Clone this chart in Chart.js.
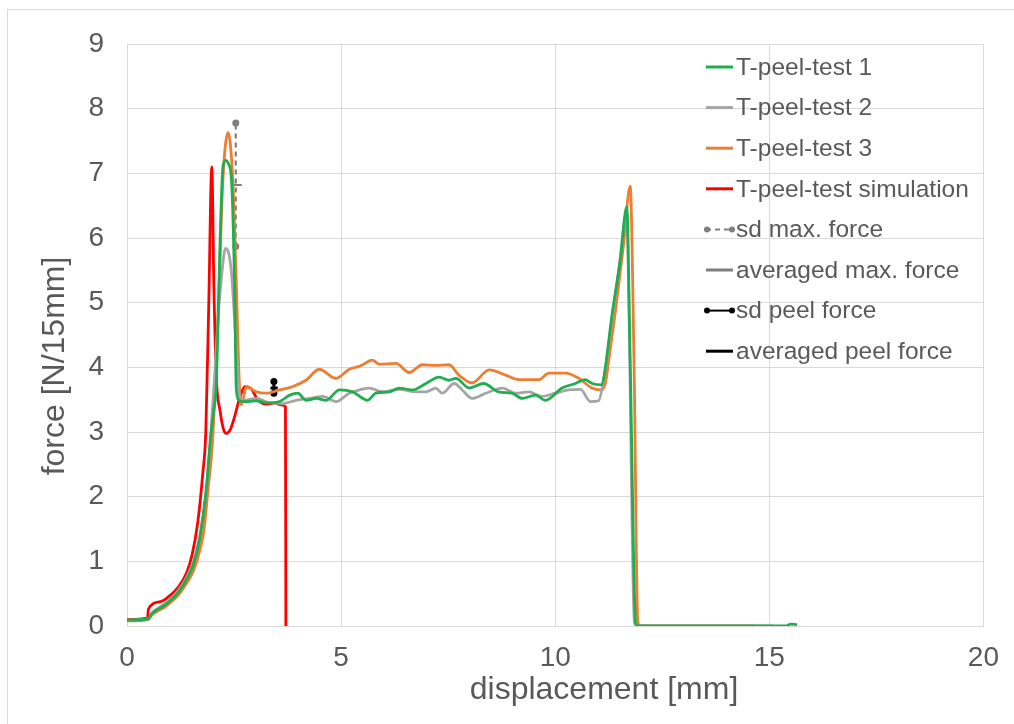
<!DOCTYPE html>
<html>
<head>
<meta charset="utf-8">
<script src="https://cdn.jsdelivr.net/npm/chart.js@4/dist/chart.umd.min.js"></script>
<style>
  html, body { margin: 0; padding: 0; background: #fff; overflow: hidden; }
  .frame { position: absolute; left: 7px; top: 9px; width: 1200px; height: 900px;
           border-top: 1px solid #d9d9d9; border-left: 1px solid #d9d9d9; }
  .wrap { position: absolute; left: 0; top: 0; width: 1014px; height: 724px; }
</style>
</head>
<body>
<div class="frame"></div>
<div class="wrap"><canvas id="chart" width="1014" height="724"></canvas></div>
<script>
// DATA
var test1X = [0, 0.5, 0.58, 0.9, 1.2, 1.39, 1.55, 1.7, 1.85, 1.95, 2.02, 2.09, 2.17, 2.24, 2.3, 2.36, 2.44, 2.51, 2.55, 2.6, 2.75, 3.0, 3.3, 3.56, 3.8, 3.99, 4.18, 4.42, 4.65, 4.96, 5.27, 5.62, 5.81, 6.12, 6.36, 6.67, 6.98, 7.29, 7.52, 7.68, 7.99, 8.33, 8.68, 8.99, 9.23, 9.54, 9.77, 10.16, 10.47, 10.7, 10.86, 11.09, 11.15, 11.32, 11.52, 11.67, 11.75, 11.88, 11.95, 15.4, 15.5, 15.65]
var test1Y = [0.09, 0.11, 0.19, 0.33, 0.52, 0.72, 0.95, 1.35, 2.1, 2.9, 3.3, 3.8, 5.86, 7.1, 7.2, 7.16, 6.9, 5.35, 3.7, 3.5, 3.47, 3.48, 3.45, 3.47, 3.57, 3.6, 3.49, 3.52, 3.49, 3.65, 3.62, 3.49, 3.6, 3.62, 3.68, 3.65, 3.75, 3.85, 3.8, 3.83, 3.68, 3.75, 3.62, 3.6, 3.52, 3.57, 3.49, 3.68, 3.75, 3.81, 3.75, 3.73, 3.9, 4.78, 5.66, 6.48, 4.11, 0.03, 0, 0, 0.03, 0.02]

var test2X = [0, 0.5, 0.58, 0.9, 1.2, 1.39, 1.55, 1.7, 1.85, 1.95, 2.05, 2.13, 2.2, 2.3, 2.38, 2.44, 2.55, 2.63, 2.72, 3.02, 3.3, 3.64, 3.95, 4.26, 4.57, 4.88, 5.19, 5.43, 5.66, 5.97, 6.36, 6.75, 6.98, 7.21, 7.36, 7.64, 7.83, 8.06, 8.38, 8.77, 9.07, 9.38, 9.69, 10.0, 10.31, 10.59, 10.82, 11.01, 11.13, 11.3, 11.5, 11.67, 11.72, 11.85, 11.95, 15.1]
var test2Y = [0.09, 0.11, 0.2, 0.35, 0.55, 0.75, 1.0, 1.4, 2.1, 2.9, 3.9, 4.8, 5.35, 5.84, 5.75, 5.46, 4.32, 3.55, 3.49, 3.52, 3.46, 3.44, 3.49, 3.52, 3.55, 3.47, 3.6, 3.65, 3.68, 3.62, 3.66, 3.62, 3.62, 3.68, 3.6, 3.75, 3.65, 3.52, 3.6, 3.68, 3.6, 3.62, 3.55, 3.6, 3.65, 3.66, 3.47, 3.48, 3.8, 4.6, 5.6, 6.4, 5.0, 0.05, 0, 0]

var test3X = [0, 0.5, 0.58, 0.9, 1.2, 1.39, 1.55, 1.7, 1.8, 1.89, 2.0, 2.13, 2.24, 2.36, 2.47, 2.55, 2.62, 2.67, 2.79, 3.02, 3.25, 3.56, 3.86, 4.18, 4.49, 4.88, 5.19, 5.45, 5.73, 5.89, 6.28, 6.59, 6.9, 7.2, 7.52, 7.75, 8.06, 8.46, 8.84, 9.15, 9.62, 9.85, 10.24, 10.55, 10.86, 11.05, 11.17, 11.25, 11.41, 11.6, 11.75, 11.84, 11.93, 12.0, 14.64]
var test3Y = [0.08, 0.1, 0.17, 0.3, 0.48, 0.66, 0.85, 1.17, 1.5, 2.1, 2.88, 4.84, 6.9, 7.63, 6.9, 5.35, 3.8, 3.42, 3.7, 3.62, 3.6, 3.65, 3.7, 3.8, 3.97, 3.83, 3.97, 4.02, 4.11, 4.05, 4.06, 3.92, 4.04, 4.03, 4.04, 3.88, 3.76, 3.96, 3.88, 3.81, 3.81, 3.91, 3.91, 3.83, 3.68, 3.65, 3.75, 4.11, 4.89, 5.92, 6.8, 4.11, 0.05, 0, 0]

var simX = [0, 0.48, 0.5, 0.8, 1.0, 1.2, 1.39, 1.52, 1.65, 1.77, 1.84, 1.91, 1.98, 2.03, 2.09, 2.17, 2.25, 2.32, 2.42, 2.51, 2.62, 2.75, 2.9, 3.05, 3.25, 3.45, 3.6, 3.7, 3.71]
var simY = [0.1, 0.12, 0.26, 0.38, 0.47, 0.6, 0.82, 1.1, 1.59, 2.36, 3.0, 5.0, 7.1, 5.2, 3.8, 3.34, 3.05, 2.98, 3.05, 3.23, 3.5, 3.7, 3.67, 3.5, 3.43, 3.45, 3.42, 3.39, 0]

var sdMaxX = [2.54, 2.54]
var sdMaxY = [5.87, 7.78]
var avgMaxX = [2.47, 2.68]
var avgMaxY = [6.82, 6.82]
var sdPeelX = [3.43, 3.43]
var sdPeelY = [3.6, 3.78]
var avgPeelX = [3.35, 3.52]
var avgPeelY = [3.68, 3.68]

var xTicks = [0, 5, 10, 15, 20]
var yTicks = [0, 1, 2, 3, 4, 5, 6, 7, 8, 9]

// COLORS
var green = '#1fae4f'
var gray = '#a5a5a5'
var orange = '#ed7d31'
var red = '#ff0000'
var darkGray = '#7f7f7f'
var black = '#000000'
var text = '#595959'
var grid = '#d9d9d9'
var font = "'Liberation Sans', Arial, sans-serif"

function pts (xs, ys) {
  return xs.map(function (x, i) { return { x: x, y: ys[i] } })
}

function curve (label, xs, ys, color) {
  return {
    label: label, data: pts(xs, ys), borderColor: color, backgroundColor: color,
    borderWidth: 2.8, pointRadius: 0, showLine: true, cubicInterpolationMode: 'monotone'
  }
}

function marker (label, xs, ys, color, dash, dots, width) {
  return {
    label: label, data: pts(xs, ys), borderColor: color, backgroundColor: color,
    borderWidth: width, borderDash: dash, showLine: true,
    pointRadius: dots ? 3.5 : 0, pointBackgroundColor: color, pointBorderWidth: 0
  }
}

var datasets = [
  curve('T-peel-test 1', test1X, test1Y, green),
  curve('T-peel-test 2', test2X, test2Y, gray),
  curve('T-peel-test 3', test3X, test3Y, orange),
  curve('T-peel-test simulation', simX, simY, red),
  marker('sd max. force', sdMaxX, sdMaxY, darkGray, [5, 4], true, 2.2),
  marker('averaged max. force', avgMaxX, avgMaxY, darkGray, [], false, 2),
  marker('sd peel force', sdPeelX, sdPeelY, black, [], true, 3),
  marker('averaged peel force', avgPeelX, avgPeelY, black, [], false, 3)
]

// legend drawn inside the plot, top right
var insideLegend = {
  id: 'insideLegend',
  afterDraw: function (chart) {
    var ctx = chart.ctx
    var x0 = 706, x1 = 733, y = 67, step = 40.6
    ctx.save()
    ctx.font = '24.5px ' + font
    ctx.textBaseline = 'middle'
    ctx.textAlign = 'left'
    chart.data.datasets.forEach(function (ds) {
      ctx.strokeStyle = ds.borderColor
      ctx.lineWidth = ds.pointRadius ? 2 : 3
      ctx.setLineDash(ds.borderDash || [])
      ctx.beginPath()
      ctx.moveTo(x0, y)
      ctx.lineTo(x1, y)
      ctx.stroke()
      ctx.setLineDash([])
      if (ds.pointRadius) {
        ctx.fillStyle = ds.borderColor
        ;[x0 + 1, x1 - 1].forEach(function (px) {
          ctx.beginPath()
          ctx.arc(px, y, 3, 0, Math.PI * 2)
          ctx.fill()
        })
      }
      ctx.fillStyle = text
      ctx.fillText(ds.label, x1 + 3, y + 1)
      y += step
    })
    ctx.restore()
  }
}

// axis titles placed like the original (off centre of the plot)
var axisTitles = {
  id: 'axisTitles',
  afterDraw: function (chart) {
    var ctx = chart.ctx
    ctx.save()
    ctx.fillStyle = text
    ctx.font = '32px ' + font
    ctx.textAlign = 'center'
    ctx.textBaseline = 'middle'
    ctx.fillText('displacement [mm]', 604, 690)
    ctx.translate(55, 366)
    ctx.rotate(-Math.PI / 2)
    ctx.fillText('force [N/15mm]', 0, 0)
    ctx.restore()
  }
}

new Chart(document.getElementById('chart'), {
  type: 'scatter',
  data: { datasets: datasets },
  plugins: [insideLegend, axisTitles],
  options: {
    responsive: false,
    animation: false,
    devicePixelRatio: 1,
    layout: { padding: { left: 0, right: 28, top: 44, bottom: 0 } },
    plugins: { legend: { display: false }, tooltip: { enabled: false } },
    scales: {
      x: {
        type: 'linear', min: 0, max: 20,
        afterBuildTicks: function (s) { s.ticks = xTicks.map(function (v) { return { value: v } }) },
        afterFit: function (s) { s.height = 98 },
        ticks: { color: text, font: { family: font, size: 28 }, padding: 15 },
        grid: { color: grid, lineWidth: 1, drawTicks: false },
        border: { color: grid }
      },
      y: {
        min: 0, max: 9,
        afterBuildTicks: function (s) { s.ticks = yTicks.map(function (v) { return { value: v } }) },
        afterFit: function (s) { s.width = 127 },
        ticks: { color: text, font: { family: font, size: 28 }, padding: 23 },
        grid: { color: grid, lineWidth: 1, drawTicks: false },
        border: { color: grid }
      }
    }
  }
})
</script>
</body>
</html>
